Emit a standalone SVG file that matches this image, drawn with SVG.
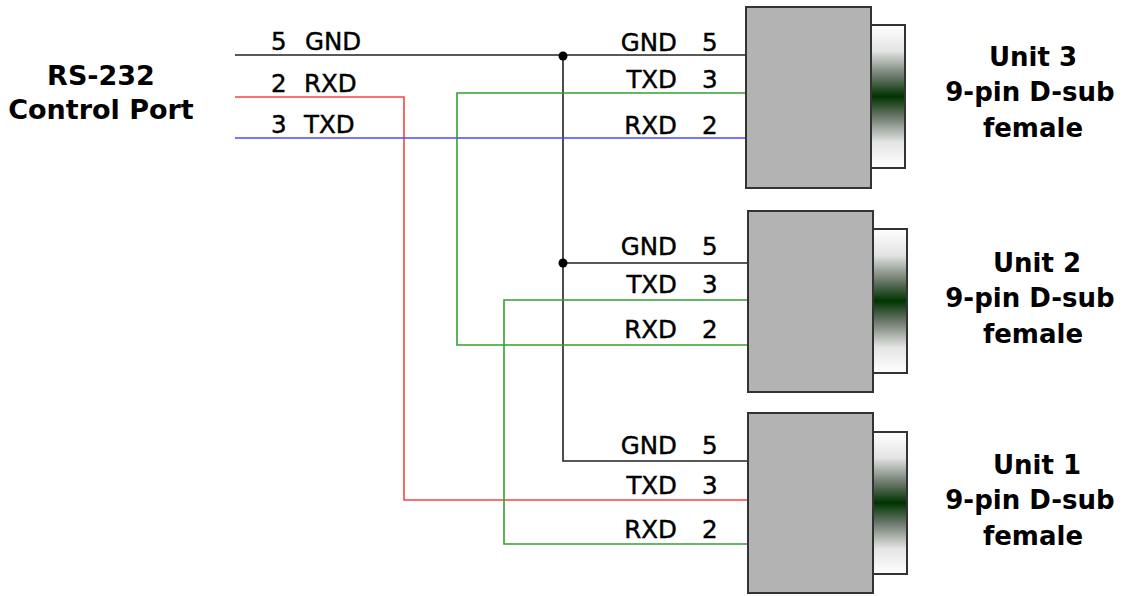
<svg xmlns="http://www.w3.org/2000/svg" width="1126" height="596" viewBox="0 0 1126 596">
<style>
.lbl{font-family:"DejaVu Sans",Verdana,sans-serif;font-size:24.5px;fill:#000;stroke:#000;stroke-width:0.45}
.title{font-family:"DejaVu Sans",Verdana,sans-serif;font-size:27px;font-weight:bold;fill:#000;text-anchor:middle}
.unit{font-family:"DejaVu Sans",Verdana,sans-serif;font-size:26px;font-weight:bold;fill:#000;text-anchor:middle}
.body{fill:#b3b3b3;stroke:#333;stroke-width:2}
.tab{fill:url(#tabgrad);stroke:#333;stroke-width:2}
.w{fill:none;stroke-width:1.6}
.k{stroke:#222}
.g{stroke:#33a033}
.r{stroke:#ff4040}
.b{stroke:#4848ff}
.end{text-anchor:end}
</style>
<defs>
<linearGradient id="tabgrad" x1="0" y1="0" x2="0" y2="1">
<stop offset="0" stop-color="#ffffff"/>
<stop offset="0.18" stop-color="#e4e4e4"/>
<stop offset="0.36" stop-color="#6a786a"/>
<stop offset="0.5" stop-color="#003300"/>
<stop offset="0.64" stop-color="#6a786a"/>
<stop offset="0.82" stop-color="#e4e4e4"/>
<stop offset="1" stop-color="#ffffff"/>
</linearGradient>
</defs>
<rect width="1126" height="596" fill="#fff"/>

<g id="connectors">
<polyline class="w k" points="235,55 747,55"/>
<polyline class="w k" points="563,55 563,461 749,461"/>
<polyline class="w k" points="563,263 749,263"/>
<polyline class="w g" points="747,93 457,93 457,345 749,345"/>
<polyline class="w r" points="235,97 404,97 404,500 749,500"/>
<polyline class="w b" points="235,138 747,138"/>
<polyline class="w g" points="749,300 504,300 504,544 749,544"/>
<circle cx="563" cy="56" r="4.5" fill="#000"/>
<circle cx="563" cy="263" r="4.5" fill="#000"/>
</g>

<g id="rs232">
<text class="title" x="101" y="85">RS-232</text>
<text class="title" x="101" y="119">Control Port</text>
<text class="lbl" x="271" y="50">5</text><text class="lbl" x="305" y="50">GND</text>
<text class="lbl" x="271" y="92">2</text><text class="lbl" x="304" y="92">RXD</text>
<text class="lbl" x="271" y="133">3</text><text class="lbl" x="304" y="133">TXD</text>
</g>

<g id="unit3">
<rect class="tab" x="871" y="25" width="34" height="143"/>
<rect class="body" x="746" y="7" width="125" height="181"/>
<text class="lbl end" x="677" y="51">GND</text><text class="lbl" x="702" y="51">5</text>
<text class="lbl end" x="677" y="88">TXD</text><text class="lbl" x="702" y="88">3</text>
<text class="lbl end" x="677" y="134">RXD</text><text class="lbl" x="702" y="134">2</text>
<text class="unit" x="1033" y="66">Unit 3</text>
<text class="unit" x="1030" y="101">9-pin D-sub</text>
<text class="unit" x="1033" y="137">female</text>
</g>

<g id="unit2">
<rect class="tab" x="873" y="229" width="34" height="144"/>
<rect class="body" x="748" y="211" width="125" height="181"/>
<text class="lbl end" x="677" y="255">GND</text><text class="lbl" x="702" y="255">5</text>
<text class="lbl end" x="677" y="293">TXD</text><text class="lbl" x="702" y="293">3</text>
<text class="lbl end" x="677" y="338">RXD</text><text class="lbl" x="702" y="338">2</text>
<text class="unit" x="1037" y="272">Unit 2</text>
<text class="unit" x="1030" y="307">9-pin D-sub</text>
<text class="unit" x="1033" y="343">female</text>
</g>

<g id="unit1">
<rect class="tab" x="873" y="432" width="34" height="142"/>
<rect class="body" x="748" y="413" width="125" height="180"/>
<text class="lbl end" x="677" y="454">GND</text><text class="lbl" x="702" y="454">5</text>
<text class="lbl end" x="677" y="494">TXD</text><text class="lbl" x="702" y="494">3</text>
<text class="lbl end" x="677" y="538">RXD</text><text class="lbl" x="702" y="538">2</text>
<text class="unit" x="1037" y="474">Unit 1</text>
<text class="unit" x="1030" y="509">9-pin D-sub</text>
<text class="unit" x="1033" y="545">female</text>
</g>
</svg>
